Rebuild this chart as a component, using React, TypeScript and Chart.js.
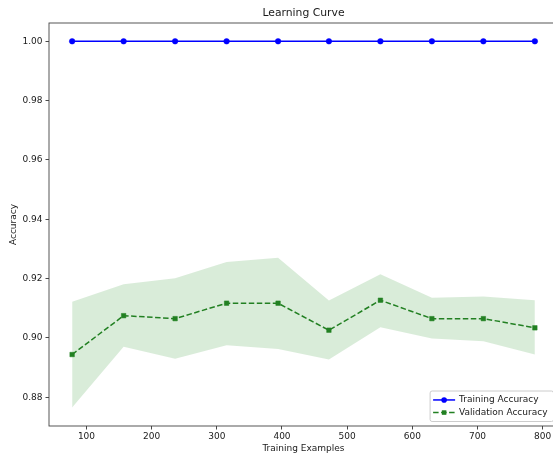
import { useEffect, useRef } from "react";
import { Chart, registerables } from "chart.js";

Chart.register(...registerables);

const trainSizes = [78, 157, 236, 315, 394, 472, 551, 630, 709, 788];
const trainAccuracy = [1.0, 1.0, 1.0, 1.0, 1.0, 1.0, 1.0, 1.0, 1.0, 1.0];
const valAccuracy = [0.8944, 0.9075, 0.9065, 0.9117, 0.9117, 0.9026, 0.9127, 0.9065, 0.9065, 0.9034];
const valUpper = [0.9122, 0.9181, 0.9201, 0.9256, 0.927, 0.9126, 0.9215, 0.9135, 0.914, 0.9127];
const valLower = [0.8765, 0.897, 0.893, 0.8975, 0.8963, 0.8927, 0.9036, 0.8998, 0.8989, 0.8944];

const xTickValues = [100, 200, 300, 400, 500, 600, 700, 800];
const yTickValues = [0.88, 0.9, 0.92, 0.94, 0.96, 0.98, 1.0];
const xRange = [42.5, 823.5];
const yRange = [0.8703, 1.00617];

const chartTitle = "Learning Curve";
const xTitle = "Training Examples";
const yTitle = "Accuracy";
const seriesLabels = ["Training Accuracy", "Validation Accuracy"];

const FONT = "'DejaVu Sans', Verdana, sans-serif";
const BLUE = "#0000ff";
const GREEN = "#228022";
const BAND = "rgba(0,128,0,0.15)";
const TEXT = "#1a1a1a";

const decorPlugin = {
  id: "decor",
  afterDraw(chart: any) {
    const { ctx, chartArea: a } = chart;
    ctx.save();
    // frame (spines)
    ctx.strokeStyle = "#444";
    ctx.lineWidth = 0.9;
    ctx.strokeRect(a.left, a.top, a.right - a.left, a.bottom - a.top);

    // title
    ctx.fillStyle = TEXT;
    ctx.font = `10.8px ${FONT}`;
    ctx.textAlign = "center";
    ctx.textBaseline = "middle";
    ctx.fillText(chartTitle, (a.left + a.right) / 2, 13.5);

    // legend
    ctx.font = `9px ${FONT}`;
    const items = [chart.data.datasets[0], chart.data.datasets[1]];
    const textW = Math.max(...items.map((d: any) => ctx.measureText(d.label).width));
    const handle = 22, padL = 3, gap = 4, padR = 6, rowH = 12.6, padV = 2.65;
    const right = a.right - 4.5;
    const bottom = a.bottom - 4.5;
    const w = padL + handle + gap + textW + padR;
    const h = padV * 2 + rowH * items.length;
    const left = right - w;
    const top = bottom - h;
    ctx.beginPath();
    if (ctx.roundRect) ctx.roundRect(left, top, w, h, 2);
    else ctx.rect(left, top, w, h);
    ctx.fillStyle = "rgba(255,255,255,0.8)";
    ctx.fill();
    ctx.strokeStyle = "#cccccc";
    ctx.lineWidth = 1;
    ctx.stroke();

    items.forEach((d: any, i: number) => {
      const cy = top + padV + rowH * (i + 0.5);
      const x0 = left + padL;
      const x1 = x0 + handle;
      ctx.beginPath();
      ctx.setLineDash(d.borderDash || []);
      ctx.strokeStyle = d.borderColor;
      ctx.lineWidth = d.borderWidth;
      ctx.moveTo(x0, cy);
      ctx.lineTo(x1, cy);
      ctx.stroke();
      ctx.setLineDash([]);
      const xm = (x0 + x1) / 2;
      ctx.fillStyle = d.pointBackgroundColor;
      if (d.pointStyle === "rect") {
        const s = d.pointRadius * Math.SQRT1_2;
        ctx.fillRect(xm - s, cy - s, 2 * s, 2 * s);
      } else {
        ctx.beginPath();
        ctx.arc(xm, cy, d.pointRadius, 0, Math.PI * 2);
        ctx.fill();
      }
      ctx.fillStyle = TEXT;
      ctx.textAlign = "left";
      ctx.textBaseline = "middle";
      ctx.fillText(d.label, x1 + gap, cy);
    });
    ctx.restore();
  },
};

export default function App() {
  const ref = useRef<HTMLCanvasElement | null>(null);

  useEffect(() => {
    if (!ref.current) return;
    const pts = (arr: number[]) => trainSizes.map((x, i) => ({ x, y: arr[i] }));
    const chart = new Chart(ref.current, {
      type: "line",
      data: {
        datasets: [
          {
            label: seriesLabels[0],
            data: pts(trainAccuracy),
            borderColor: BLUE,
            backgroundColor: BLUE,
            pointBackgroundColor: BLUE,
            pointBorderColor: BLUE,
            pointBorderWidth: 0.5,
            pointStyle: "circle",
            pointRadius: 2.8,
            borderWidth: 1.5,
            fill: false,
          } as any,
          {
            label: seriesLabels[1],
            data: pts(valAccuracy),
            borderColor: GREEN,
            backgroundColor: GREEN,
            pointBackgroundColor: GREEN,
            pointBorderColor: GREEN,
            pointBorderWidth: 0.5,
            pointStyle: "rect",
            pointRadius: 3.2,
            borderWidth: 1.5,
            borderDash: [5.5, 2.5],
            fill: false,
          } as any,
          {
            label: "upper",
            data: pts(valUpper),
            borderColor: "rgba(0,0,0,0)",
            borderWidth: 0,
            pointRadius: 0,
            fill: false,
          },
          {
            label: "lower",
            data: pts(valLower),
            borderColor: "rgba(0,0,0,0)",
            backgroundColor: BAND,
            borderWidth: 0,
            pointRadius: 0,
            fill: "-1",
          },
        ],
      },
      options: {
        responsive: false,
        animation: false,
        layout: { padding: { top: 23, right: 12, left: 0, bottom: 0 } },
        plugins: {
          legend: { display: false },
          title: { display: false },
          tooltip: { enabled: false },
        },
        elements: { line: { tension: 0 } },
        scales: {
          x: {
            type: "linear",
            min: xRange[0],
            max: xRange[1],
            afterBuildTicks: (s: any) => {
              s.ticks = xTickValues.map((v) => ({ value: v }));
            },
            afterFit: (s: any) => {
              s.height = 29;
            },
            grid: {
              drawOnChartArea: false,
              drawTicks: true,
              tickLength: 3.5,
              color: "#333",
              lineWidth: 0.9,
            },
            border: { display: false },
            ticks: {
              font: { family: FONT, size: 9 },
              color: TEXT,
              padding: 2,
              maxRotation: 0,
              autoSkip: false,
              callback: (v: any) => String(v),
            },
            title: {
              display: true,
              text: xTitle,
              font: { family: FONT, size: 9 },
              color: TEXT,
              padding: { top: 0, bottom: 1 },
            },
          },
          y: {
            type: "linear",
            min: yRange[0],
            max: yRange[1],
            afterBuildTicks: (s: any) => {
              s.ticks = yTickValues.map((v) => ({ value: v }));
            },
            afterFit: (s: any) => {
              s.width = 49;
            },
            grid: {
              drawOnChartArea: false,
              drawTicks: true,
              tickLength: 3.5,
              color: "#333",
              lineWidth: 0.9,
            },
            border: { display: false },
            ticks: {
              font: { family: FONT, size: 9 },
              color: TEXT,
              padding: 3,
              autoSkip: false,
              callback: (v: any) => Number(v).toFixed(2),
            },
            title: {
              display: true,
              text: yTitle,
              font: { family: FONT, size: 9 },
              color: TEXT,
              padding: { top: 8, bottom: 0 },
            },
          },
        },
      },
      plugins: [decorPlugin],
    });
    return () => chart.destroy();
  }, []);

  return (
    <div
      style={{
        position: "fixed",
        left: 0,
        top: 0,
        width: 553,
        height: 455,
        overflow: "hidden",
        background: "#fff",
      }}
    >
      <canvas ref={ref} width={570} height={455} style={{ display: "block" }} />
    </div>
  );
}
